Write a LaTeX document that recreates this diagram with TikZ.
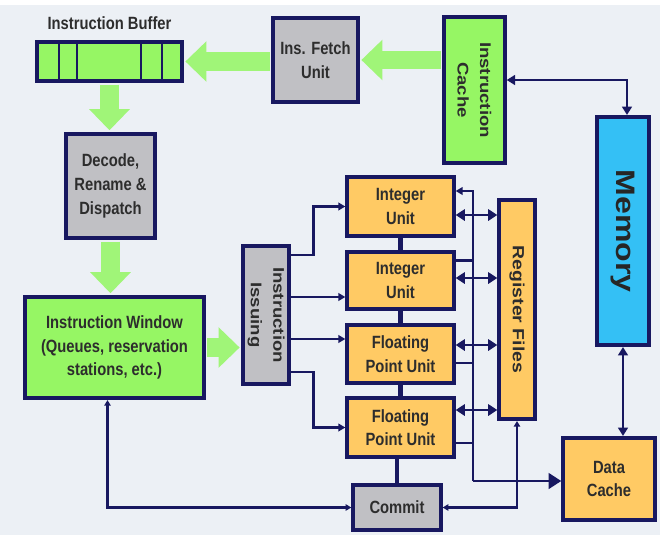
\documentclass[tikz,border=0pt]{standalone}
\usepackage{fontspec}
\setmainfont{Liberation Sans}
\usetikzlibrary{arrows.meta}
\newlength\pxu
\setlength\pxu{0.025cm}
\definecolor{navy}{RGB}{24,24,96}
\definecolor{boxgreen}{RGB}{150,246,100}
\definecolor{arrgreen}{RGB}{160,245,120}
\definecolor{boxgrey}{RGB}{192,192,196}
\definecolor{boxorange}{RGB}{255,202,100}
\definecolor{boxblue}{RGB}{52,192,245}
\definecolor{bgpanel}{RGB}{236,240,245}
\definecolor{txt}{RGB}{45,45,45}
\tikzset{
  boxw/.style={minimum width=#1*\pxu},
  boxh/.style={minimum height=#1*\pxu/1.2},
  unit/.style={draw=navy, line width=2.4pt, text=txt, align=center, inner sep=0pt,
    yscale=1.2, font=\bfseries\fontsize{10.5}{14}\selectfont},
  greybox/.style={unit, fill=boxgrey},
  greenbox/.style={unit, fill=boxgreen},
  orangebox/.style={unit, fill=boxorange},
  bluebox/.style={unit, fill=boxblue},
  vtext/.style={yscale=1.2, rotate=-90, align=center, text=txt, inner sep=0pt,
    font=\bfseries\fontsize{11}{16}\selectfont},
  fat/.style={arrgreen, line width=13pt, shorten <=1.2pt, shorten >=1.2pt,
    -{Triangle[length=15pt,width=28pt]}},
  bus/.style={navy, line width=2pt, >={Triangle[length=5pt,width=5.5pt]}},
  thinbus/.style={navy, line width=1.5pt, >={Triangle[length=4pt,width=4.5pt]}},
  stack/.style={navy, line width=3.5pt}
}
\begin{document}
\begin{tikzpicture}[x=0.025cm,y=-0.025cm]
  %% Background
  \fill[white] (0,0) rectangle (660,535);
  \fill[bgpanel] (0,5) rectangle (660,535);
  %% Front end
  \node[greenbox, boxw=145, boxh=39] (buf) at (109.5,61.5) {};
  \foreach \d in {59,77,141,162}
    \draw[navy, line width=1.2pt] (\d,42) -- (\d,81);
  \node[anchor=south, text=txt, yscale=1.2, font=\bfseries\fontsize{10.5}{12}\selectfont] (buflbl)
    at ([yshift=3pt]buf.north) {Instruction Buffer};
  \node[greybox, boxw=85, boxh=84] (fetch) at (315.5,60) {Ins. Fetch\\Unit};
  \node[greenbox, boxw=61, boxh=146] (icache) at (474.5,90) {};
  \node[vtext] (icachet) at (icache) {Instruction\\Cache};
  \node[bluebox, boxw=52, boxh=228] (mem) at (623,231) {};
  \node[vtext, text=black!85, font=\bfseries\fontsize{19}{22}\selectfont] (memt) at (mem) {Memory};
  \node[greybox, boxw=89, boxh=104] (decode) at (110.5,186) {Decode,\\Rename \&\\Dispatch};
  \node[greenbox, boxw=179, boxh=101] (window) at (114.5,347.5)
    {Instruction Window\\(Queues, reservation\\stations, etc.)};
  \node[greybox, boxw=46, boxh=138] (issue) at (266,315) {};
  \node[vtext] (issuet) at (issue) {Instruction\\Issuing};
  %% Execution units
  \node[orangebox, boxw=107, boxh=59] (int1) at (400.5,206.5) {Integer\\Unit};
  \node[orangebox, boxw=107, boxh=57] (int2) at (400.5,280.5) {Integer\\Unit};
  \node[orangebox, boxw=107, boxh=58] (fp1) at (400.5,354) {Floating\\Point Unit};
  \node[orangebox, boxw=107, boxh=59] (fp2) at (400.5,427.5) {Floating\\Point Unit};
  \node[greybox, boxw=88, boxh=45] (commit) at (397,507.5) {Commit};
  \node[orangebox, boxw=36, boxh=219] (regf) at (517,309.5) {};
  \node[vtext, font=\bfseries\fontsize{11.5}{16}\selectfont] (regft) at (regf) {Register Files};
  \node[orangebox, boxw=92, boxh=82] (dcache) at (609,479) {Data\\Cache};
  %% Wide arrows
  \draw[fat] (fetch.west |- buf.east) -- (buf.east);
  \draw[fat] (icache.west |- fetch.east) -- (fetch.east);
  \draw[fat] (buf.south) -- (buf.south |- decode.north);
  \draw[fat] (decode.south) -- (decode.south |- window.north);
  \draw[fat] (window.east) -- (window.east -| issue.west);
  %% Memory side
  \draw[bus, <->, >={Triangle[length=6pt,width=7pt]}]
    ([yshift=10*\pxu]icache.east) -| ([xshift=4*\pxu]mem.north);
  \draw[bus, <->, >={Triangle[length=6pt,width=7pt]}] (mem.south) -- (mem.south |- dcache.north);
  %% Issue ports
  \coordinate (iss1) at ([yshift=60*\pxu]issue.east);
  \coordinate (iss2) at ([yshift=18*\pxu]issue.east);
  \coordinate (iss3) at ([yshift=-24*\pxu]issue.east);
  \coordinate (iss4) at ([yshift=-57*\pxu]issue.east);
  \draw[bus, ->] (iss1) -- ++(23,0) |- (int1.west);
  \draw[bus, ->] (iss2) -- (iss2 -| int2.west);
  \draw[bus, ->] (iss3) -- (iss3 -| fp1.west);
  \draw[bus, ->] (iss4) -- ++(23,0) |- (fp2.west);
  %% Unit stack
  \foreach \a/\b in {int1/int2,int2/fp1,fp1/fp2}
    \draw[stack] (\a.south) -- (\b.north);
  \draw[stack] (commit.north |- fp2.south) -- (commit.north);
  %% Result bus
  \coordinate (bustop) at (473,191);
  \coordinate (busbot) at (473,481);
  \draw[bus, ->] (busbot) -- (bustop) -- (bustop -| int1.east);
  \draw[bus, -{Triangle[length=9pt,width=11pt]}] (busbot) -- (busbot -| dcache.west);
  \foreach \u/\dy in {int2/20,fp1/-9,fp2/-15.5}
    \draw[bus] ([yshift=\dy*\pxu]\u.east) coordinate (o) -- (o -| bustop);
  \foreach \u/\dy in {int1/-8.5,int2/2.5,fp1/9,fp2/17.5}
    \draw[bus, <->, >={Triangle[length=6.5pt,width=8pt]}]
      ([yshift=\dy*\pxu]\u.east) coordinate (d) -- (d -| regf.west);
  %% Commit paths
  \draw[thinbus, <->] (regf.south) |- (commit.east);
  \draw[thinbus, <->] (commit.west) -| ([xshift=-7*\pxu]window.south);
\end{tikzpicture}
\end{document}
